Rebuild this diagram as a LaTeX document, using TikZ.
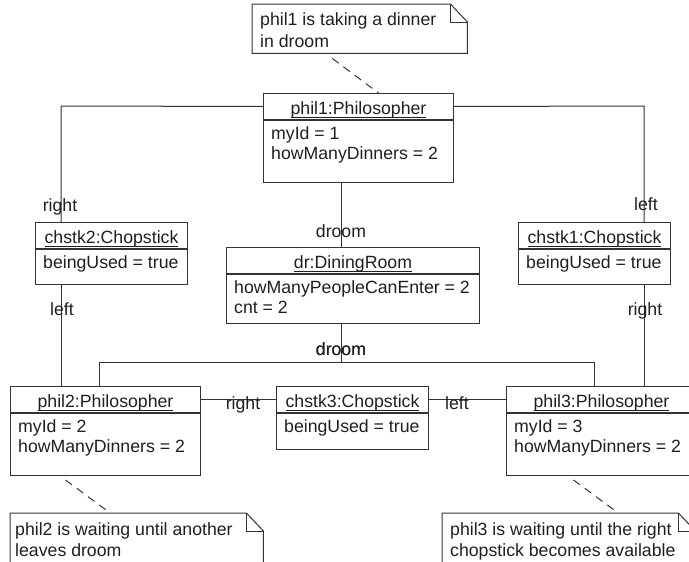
\documentclass[tikz,border=0pt]{standalone}
\usepackage{fontspec}
\setmainfont{Liberation Sans}
\newcommand{\objname}[1]{\setbox0=\hbox{#1}\rlap{\rule[-3pt]{\wd0}{0.9pt}}\box0}
\begin{document}
\begin{tikzpicture}[x=1pt,y=-1pt]
\tikzstyle{every node}=[font=\fontsize{17.7}{20}\selectfont,text=black!88,inner sep=0pt]
\tikzstyle{lnk}=[draw=black!80,line width=1pt]
\tikzstyle{objbox}=[lnk,rectangle,anchor=north west,minimum height=26pt,text height=16pt,text depth=0pt]
\tikzstyle{attbox}=[lnk,rectangle,anchor=north]
\tikzstyle{notebox}=[rectangle,anchor=north west]
\tikzstyle{notelink}=[draw=black!80,line width=1pt,dash pattern=on 8pt off 6pt]
\useasboundingbox (0,0) rectangle (689,562);
\clip (0,0) rectangle (689,562);
% objects
\foreach \n/\x/\y/\w/\h/\t/\at in {
  phil1/263/93/190/62/phil1:Philosopher/{myId = 1,howManyDinners = 2},
  chstk2/35/222/152/35/chstk2:Chopstick/{beingUsed = true},
  dr/226/247/253/49/dr:DiningRoom/{howManyPeopleCanEnter = 2,cnt = 2},
  chstk1/518/222/152/35/chstk1:Chopstick/{beingUsed = true},
  phil2/10/386/190/62/phil2:Philosopher/{myId = 2,howManyDinners = 2},
  chstk3/276/386/152/36/chstk3:Chopstick/{beingUsed = true},
  phil3/506/386/190/62/phil3:Philosopher/{myId = 3,howManyDinners = 2}}{
\path (\x,\y) node[objbox,minimum width=\w pt] (\n) {\objname{\t}};
\path (\n.south) node[attbox,minimum width=\w pt,minimum height=\h pt] (\n a) {};
\foreach \a [count=\i] in \at
  \path ([xshift=8pt,yshift={1pt-20pt*\i}]\n a.north west) node[anchor=base west] {\a};
}
% notes
\foreach \n/\x/\y/\w/\h in {n1/252/4/215/49, n2/10/513/253/80, n3/442/513/253/80}{
\path (\x,\y) node[notebox,minimum width=\w pt,minimum height=\h pt] (\n) {};
\draw[lnk] (\n.north west) -- ([xshift=-17pt]\n.north east) -- ([yshift=-18pt]\n.north east)
  -- (\n.south east) -- (\n.south west) -- cycle;
\draw[lnk] ([xshift=-17pt]\n.north east) |- ([yshift=-18pt]\n.north east);
}
\path ([xshift=8pt,yshift=-22pt]n1.north west) node[anchor=base west] {phil1 is taking a dinner};
\path ([xshift=8pt,yshift=-43pt]n1.north west) node[anchor=base west] {in droom};
\path ([xshift=5pt,yshift=-22pt]n2.north west) node[anchor=base west] {phil2 is waiting until another};
\path ([xshift=5pt,yshift=-43pt]n2.north west) node[anchor=base west] {leaves droom};
\path ([xshift=8pt,yshift=-22pt]n3.north west) node[anchor=base west] {phil3 is waiting until the right};
\path ([xshift=8pt,yshift=-43pt]n3.north west) node[anchor=base west] {chopstick becomes available};
\draw[notelink] ([xshift=-27.5pt,yshift=-5pt]n1.south) -- ([xshift=20pt]phil1.north);
\draw[notelink] ([xshift=-40pt,yshift=-4pt]phil2a.south) -- ([xshift=-26.5pt]n2.north);
\draw[notelink] ([xshift=-28pt,yshift=-4pt]phil3a.south) -- ([xshift=49.5pt]n3.north);
% links
\coordinate (b1) at (61,106);
\coordinate (b2) at (644,106);
\coordinate (c1) at (341,0);
\coordinate (b3) at (341,362);
\coordinate (b4) at (99,362);
\coordinate (b5) at (594,362);
\draw[lnk] (phil1.west) -- (b1) -- (b1 |- chstk2.north);
\draw[lnk] (b1 |- chstk2a.south) -- (b1 |- phil2.north);
\draw[lnk] (phil1.east) -- (b2) -- (b2 |- chstk1.north);
\draw[lnk] (b2 |- chstk1a.south) -- (b2 |- phil3.north);
\draw[lnk] (c1 |- phil1a.south) -- (c1 |- dr.north);
\draw[lnk] (b3 |- dra.south) -- (b3) -- (b4) -- (b4 |- phil2.north);
\draw[lnk] (b3) -- (b5) -- (b5 |- phil3.north);
\draw[lnk] (phil2.east) -- (chstk3.west);
\draw[lnk] (chstk3.east) -- (phil3.west);
% role names
\foreach \x/\y/\l in {60/211/right, 62/315/left, 646/210/left, 645/315/right,
  341/237/droom, 341/355/droom, 341/355/droom, 243/409/right, 457/409/left}
  \path (\x,\y) node[anchor=base] {\l};
\end{tikzpicture}
\end{document}
